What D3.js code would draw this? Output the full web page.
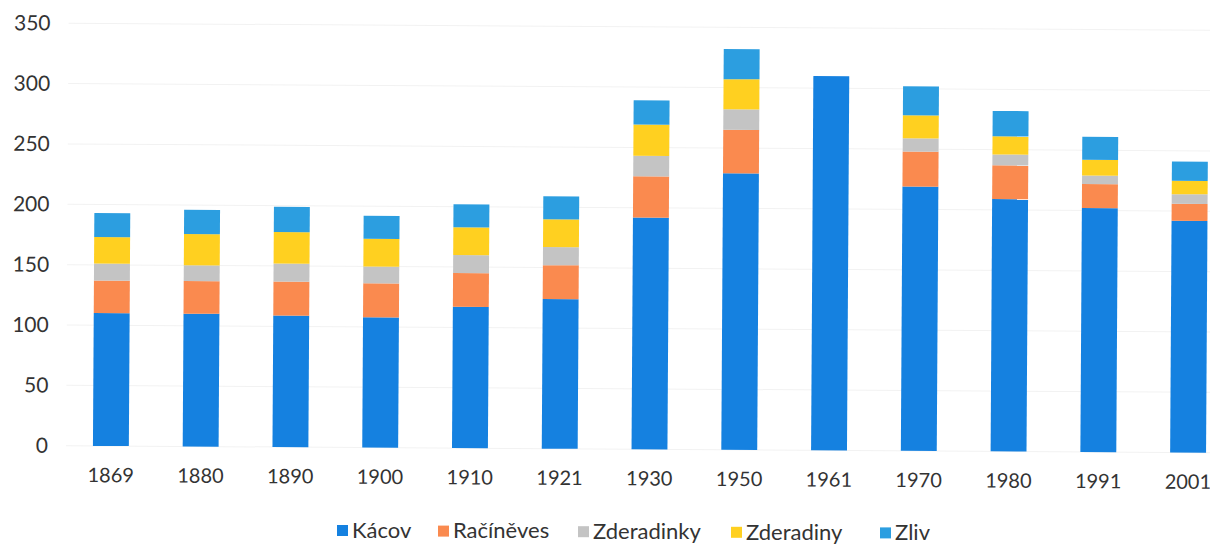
<!DOCTYPE html>
<html>
<head>
<meta charset="utf-8">
<script src="https://cdn.jsdelivr.net/npm/d3@7"></script>
<style>
  body { margin: 0; background: #fff; }
  text { font-family: Lato, "Open Sans", sans-serif; fill: #333; }
</style>
</head>
<body>
<svg id="chart" width="1210" height="544"></svg>
<script>
var years = ["1869", "1880", "1890", "1900", "1910", "1921", "1930", "1950", "1961", "1970", "1980", "1991", "2001"];
var kacov      = [110, 110, 109, 108, 117, 124, 192, 229, 310, 219, 209, 202, 192];
var racineves  = [27, 27, 28, 28, 28, 28, 34, 36, 0, 29, 28, 20, 14];
var zderadinky = [14, 13, 15, 14, 15, 15, 17, 17, 0, 11, 9, 7, 8];
var zderadiny  = [22, 26, 26, 23, 23, 23, 26, 25, 0, 19, 15, 13, 11];
var zliv       = [20, 20, 21, 19, 19, 19, 20, 25, 0, 24, 21, 19, 16];
var seriesNames = ["Kácov", "Račíněves", "Zderadinky", "Zderadiny", "Zliv"];
var yTicks = [0, 50, 100, 150, 200, 250, 300, 350];

var colors = ["#1581e0", "#fa8a4f", "#c4c4c4", "#ffd020", "#2c9ee0"];

var table = years.map(function(y, i) {
    return {year: y, "Kácov": kacov[i], "Račíněves": racineves[i],
            "Zderadinky": zderadinky[i], "Zderadiny": zderadiny[i], "Zliv": zliv[i]};
});

var stacked = d3.stack().keys(seriesNames)(table);

var svg = d3.select("#chart");
// the scanned original is tilted a little clockwise
var g = svg.append("g").attr("transform", "rotate(0.35,111,446)");

var xScale = d3.scaleBand()
    .domain(years)
    .range([66, 1233])
    .paddingInner(0.6)
    .paddingOuter(0.3);

var yScale = d3.scaleLinear()
    .domain([0, 350])
    .range([446, 23.5]);

var color = d3.scaleOrdinal().domain(seriesNames).range(colors);

// faint gridlines
g.append("g")
    .selectAll("line")
    .data(yTicks)
    .enter().append("line")
    .attr("x1", 66)
    .attr("x2", 1210)
    .attr("y1", function(d) { return yScale(d); })
    .attr("y2", function(d) { return yScale(d); })
    .style("stroke", "#f2f2f2")
    .style("stroke-width", 1);

var yAxis = d3.axisLeft(yScale).tickValues(yTicks).tickSize(0).tickPadding(0);
g.append("g")
    .attr("transform", "translate(48,0)")
    .call(yAxis)
    .call(function(a) { a.select(".domain").remove(); })
    .selectAll("text")
    .style("font-size", "21px")
    .style("fill", "#333");

var xAxis = d3.axisBottom(xScale).tickSize(0).tickPadding(0);
g.append("g")
    .attr("transform", "translate(0,468)")
    .call(xAxis)
    .call(function(a) { a.select(".domain").remove(); })
    .selectAll("text")
    .style("font-size", "20px")
    .style("fill", "#333");

g.selectAll(".layer")
    .data(stacked)
    .enter().append("g")
    .attr("class", "layer")
    .style("fill", function(d) { return color(d.key); })
    .selectAll("rect")
    .data(function(d) { return d; })
    .enter().append("rect")
    .attr("x", function(d) { return xScale(d.data.year); })
    .attr("width", xScale.bandwidth())
    .attr("y", function(d) { return yScale(d[1]); })
    .attr("height", function(d) { return yScale(d[0]) - yScale(d[1]); });

// legend
var legendX = [337, 438, 578, 731, 880];
var legend = svg.selectAll(".legend")
    .data(seriesNames)
    .enter().append("g")
    .attr("class", "legend")
    .attr("transform", function(d, i) { return "translate(" + legendX[i] + "," + (525 + i * 0.6) + ")"; });

legend.append("rect")
    .attr("width", 11)
    .attr("height", 11)
    .style("fill", function(d) { return color(d); });

legend.append("text")
    .attr("x", 15)
    .attr("y", 5)
    .attr("dy", ".35em")
    .style("font-size", "22px")
    .text(function(d) { return d; });
</script>
</body>
</html>
